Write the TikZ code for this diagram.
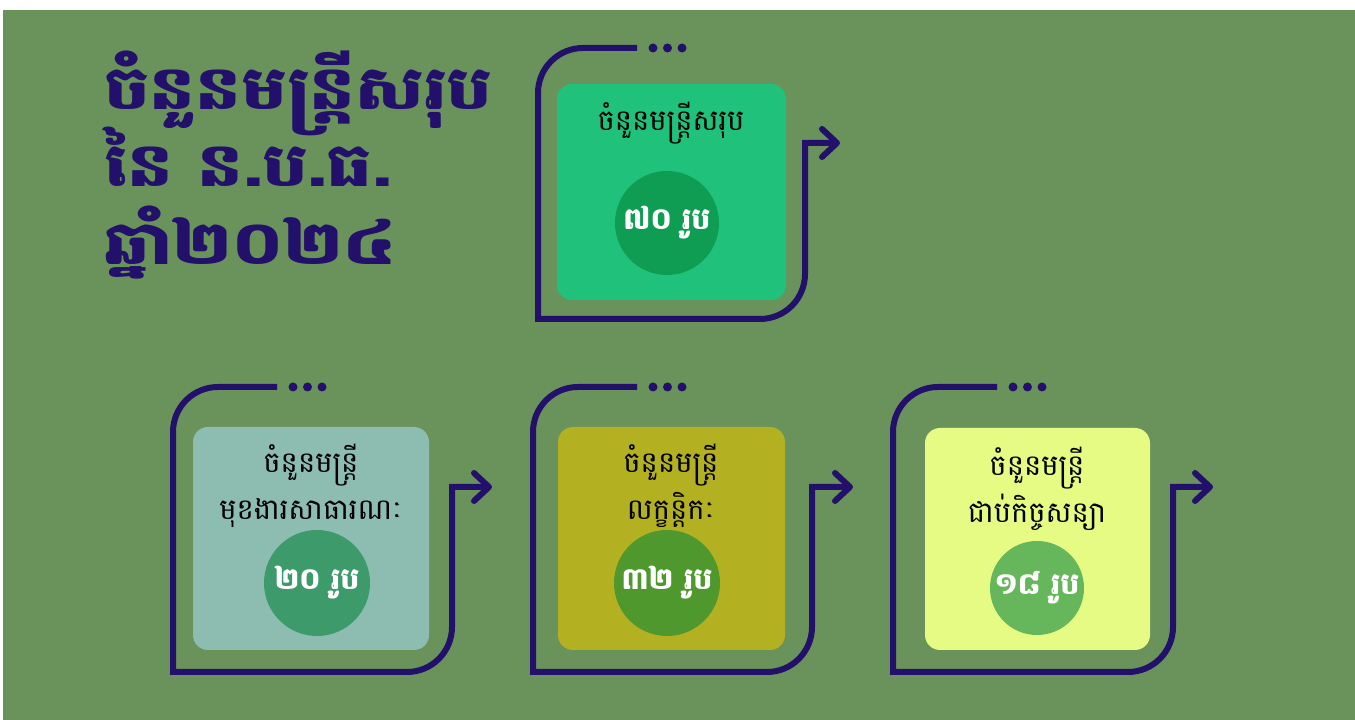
\documentclass[tikz,border=0pt]{standalone}
\usepackage{fontspec}
\usepackage{tikz}
\usetikzlibrary{arrows.meta}
\newfontfamily\khmerfont[Script=Khmer]{Battambang}
\newfontfamily\khmertitle[Script=Khmer, FakeStretch=1.2]{Battambang}
\definecolor{bggreen}{HTML}{6A935C}
\definecolor{framepurple}{HTML}{22106A}
\definecolor{totalcard}{HTML}{1FC17B}
\definecolor{totalnum}{HTML}{0E9D52}
\definecolor{civilcard}{HTML}{8DBDB1}
\definecolor{civilnum}{HTML}{3D9A6B}
\definecolor{statutecard}{HTML}{B3B122}
\definecolor{statutenum}{HTML}{4E982E}
\definecolor{contractcard}{HTML}{E5FB83}
\definecolor{contractnum}{HTML}{66B65B}

\begin{document}
\begin{tikzpicture}[x=1pt,y=1pt,
  card/.style={rounded corners=15pt, inner sep=0pt},
  cardtext/.style={align=center, font=\khmerfont\fontsize{29}{47}\selectfont, text=black},
  numdisc/.style={circle, inner sep=0pt, text=white, font=\khmerfont\bfseries\fontsize{30}{34}\selectfont},
  titleline/.style={anchor=base west, inner sep=0pt, text=framepurple, font=\khmertitle\bfseries\fontsize{60}{70}\selectfont},
  loopline/.style={framepurple, line width=6pt, -{Straight Barb[length=15pt,width=28pt,round]}}]

\useasboundingbox (0,0) rectangle (1355,720);
\fill[white] (0,0) rectangle (1355,720);
\fill[bggreen] (3,0) rectangle (1355,710);

\node[titleline] (titleA) at (104,610) {ចំនួនមន្ត្រីសរុប};
\node[titleline] (titleB) at (104,533) {នៃ ន.ប.ធ.};
\node[titleline] (titleC) at (104,455) {ឆ្នាំ២០២៤};

\draw[loopline] (637,672) -- (583,672) arc[start angle=90, end angle=180, radius=45] -- (538,401)
  -- (760,401) arc[start angle=-90, end angle=0, radius=45] -- (805,577) -- (840,577);
\foreach \d in {16,30.5,45}
\fill[framepurple] (637+\d,672) circle [radius=4.5];

\foreach \l/\r/\t in {173/452/492, 533/812/853, 893/1173/1213}{
\draw[loopline] (\l+104,333) -- (\l+45,333) arc[start angle=90, end angle=180, radius=45] -- (\l,48)
  -- (\r-45,48) arc[start angle=-90, end angle=0, radius=45] -- (\r,233) -- (\t,233);
\foreach \d in {16,30.5,45}
\fill[framepurple] (\l+104+\d,333) circle [radius=4.5];
}

\node[card, fill=totalcard, minimum width=229pt, minimum height=216pt] (total) at (671.5,528) {};
\node[cardtext] (totaltext) at (671,597) {ចំនួនមន្ត្រីសរុប};
\node[numdisc, fill=totalnum, minimum size=104pt] (totalcount) at (667,497) {៧០ រូប};

\node[card, fill=civilcard, minimum width=236pt, minimum height=223pt] (civil) at (311,181.5) {};
\node[cardtext] (civiltext) at (311,234) {ចំនួនមន្ត្រី\\មុខងារសាធារណៈ};
\node[numdisc, fill=civilnum, minimum size=106pt] (civilcount) at (317,137) {២០ រូប};

\node[card, fill=statutecard, minimum width=227pt, minimum height=223pt] (statute) at (671.5,181.5) {};
\node[cardtext] (statutetext) at (671,234) {ចំនួនមន្ត្រី\\លក្ខន្តិកៈ};
\node[numdisc, fill=statutenum, minimum size=106pt] (statutecount) at (667,137) {៣២ រូប};

\node[card, fill=contractcard, minimum width=225pt, minimum height=222pt] (contract) at (1037.5,181) {};
\node[cardtext] (contracttext) at (1037,231) {ចំនួនមន្ត្រី\\ជាប់កិច្ចសន្យា};
\node[numdisc, fill=contractnum, minimum size=94pt] (contractcount) at (1037,132) {១៨ រូប};

\end{tikzpicture}
\end{document}
